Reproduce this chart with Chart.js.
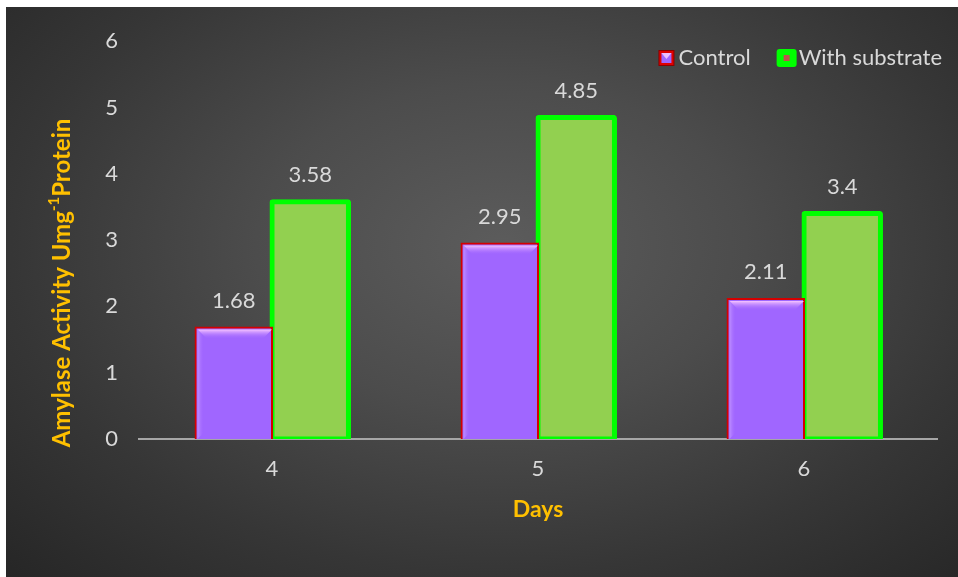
<!DOCTYPE html>
<html>
<head>
<meta charset="utf-8">
<script src="https://cdn.jsdelivr.net/npm/chart.js@4"></script>
<style>
  html, body { margin: 0; padding: 0; background: #ffffff; }
  #panel {
    position: absolute; left: 6px; top: 7px; width: 952px; height: 570px;
    background: radial-gradient(ellipse farthest-corner at 52% 42%, #5c5c5c 0%, #4c4c4c 35%, #363636 70%, #262626 100%);
  }
  canvas { display: block; }
</style>
</head>
<body>
<div id="panel"><canvas id="chart" width="952" height="570"></canvas></div>
<script>
// Amylase activity by day, with and without substrate
const categories = ['4', '5', '6'];
const controlValues = [1.68, 2.95, 2.11];
const substrateValues = [3.58, 4.85, 3.4];
const seriesNames = ['Control', 'With substrate'];
const yTitleParts = ['Amylase Activity Umg', '-1', 'Protein'];
const xTitle = 'Days';

const FONT = 'Lato, "Open Sans", sans-serif';
const TEXT = '#D9D9D9';
const ORANGE = '#FFC000';

// value labels above every bar
const valueLabels = {
  id: 'valueLabels',
  afterDatasetsDraw(chart) {
    const ctx = chart.ctx;
    ctx.save();
    ctx.font = '22px ' + FONT;
    ctx.fillStyle = TEXT;
    ctx.textAlign = 'center';
    ctx.textBaseline = 'middle';
    chart.data.datasets.forEach((ds, i) => {
      chart.getDatasetMeta(i).data.forEach((el, j) => {
        ctx.fillText(String(ds.data[j]), el.x, el.y - 27);
      });
    });
    ctx.restore();
  }
};

// light bevel along the top edge of the control bars
const bevel = {
  id: 'bevel',
  afterDatasetDraw(chart, args) {
    if (args.index !== 0) return;
    const ctx = chart.ctx;
    ctx.save();
    args.meta.data.forEach(el => {
      const p = el.getProps(['x', 'y', 'width', 'base'], true);
      const l = p.x - p.width / 2 + 2, r = p.x + p.width / 2, t = p.y + 2, b = p.base;
      const d = 9;
      let g = ctx.createLinearGradient(0, t, 0, t + d);
      g.addColorStop(0, 'rgba(250,200,255,0.95)');
      g.addColorStop(1, 'rgba(170,110,255,0)');
      ctx.fillStyle = g;
      ctx.beginPath();
      ctx.moveTo(l, t); ctx.lineTo(r, t); ctx.lineTo(r - d, t + d); ctx.lineTo(l + d, t + d);
      ctx.closePath(); ctx.fill();
      g = ctx.createLinearGradient(l, 0, l + 6, 0);
      g.addColorStop(0, 'rgba(210,170,255,0.6)');
      g.addColorStop(1, 'rgba(170,110,255,0)');
      ctx.fillStyle = g;
      ctx.beginPath();
      ctx.moveTo(l, t); ctx.lineTo(l + 6, t + 6); ctx.lineTo(l + 6, b - 6); ctx.lineTo(l, b);
      ctx.closePath(); ctx.fill();
    });
    ctx.restore();
  }
};

// rotated y-axis title with a superscript
const yTitle = {
  id: 'yTitle',
  afterDraw(chart) {
    const ctx = chart.ctx;
    const big = 'bold 24px ' + FONT, small = 'bold 15px ' + FONT;
    ctx.save();
    ctx.translate(56, 276);
    ctx.rotate(-Math.PI / 2);
    ctx.fillStyle = ORANGE;
    ctx.textBaseline = 'middle';
    ctx.textAlign = 'left';
    ctx.font = big; const w1 = ctx.measureText(yTitleParts[0]).width;
    const w3 = ctx.measureText(yTitleParts[2]).width;
    ctx.font = small; const w2 = ctx.measureText(yTitleParts[1]).width;
    let x = -(w1 + w2 + w3) / 2;
    ctx.font = big; ctx.fillText(yTitleParts[0], x, 0); x += w1;
    ctx.font = small; ctx.fillText(yTitleParts[1], x, -8); x += w2;
    ctx.font = big; ctx.fillText(yTitleParts[2], x, 0);
    ctx.restore();
  }
};

// legend in the upper right corner
const cornerLegend = {
  id: 'cornerLegend',
  afterDraw(chart) {
    const ctx = chart.ctx;
    ctx.save();
    ctx.font = '22px ' + FONT;
    ctx.textBaseline = 'middle';
    ctx.textAlign = 'left';
    const cy = 51, box = 16, gapText = 4, gapItem = 26;
    const w1 = ctx.measureText(seriesNames[0]).width;
    const w2 = ctx.measureText(seriesNames[1]).width;
    const t2 = 934 - w2, b2 = t2 - gapText - box;
    const t1 = b2 - gapItem - w1, b1 = t1 - gapText - box;
    // control marker
    ctx.fillStyle = '#8B0000';
    ctx.fillRect(b1, cy - box / 2, box, box);
    ctx.fillStyle = '#E00000';
    ctx.fillRect(b1 + 1, cy - box / 2 + 1, box - 2, box - 2);
    ctx.fillStyle = '#A066FF';
    ctx.fillRect(b1 + 3, cy - box / 2 + 3, box - 6, box - 6);
    ctx.fillStyle = 'rgba(245,200,255,0.9)';
    ctx.beginPath();
    ctx.moveTo(b1 + 3, cy - box / 2 + 3); ctx.lineTo(b1 + box - 3, cy - box / 2 + 3); ctx.lineTo(b1 + box / 2, cy + 1);
    ctx.closePath(); ctx.fill();
    // substrate marker
    ctx.fillStyle = '#00FF00';
    ctx.beginPath();
    ctx.roundRect(b2, cy - box / 2 - 1, box + 4, box + 2, 3);
    ctx.fill();
    ctx.fillStyle = '#C0504D';
    ctx.fillRect(b2 + box / 2 - 1, cy - 3, 6, 6);
    ctx.fillStyle = TEXT;
    ctx.fillText(seriesNames[0], t1, cy);
    ctx.fillText(seriesNames[1], t2 + 2, cy);
    ctx.restore();
  }
};

new Chart(document.getElementById('chart'), {
  type: 'bar',
  data: {
    labels: categories,
    datasets: [
      {
        label: seriesNames[0],
        data: controlValues,
        backgroundColor: '#A066FF',
        borderColor: '#D40000',
        borderWidth: 2,
        borderSkipped: 'bottom',
        inflateAmount: 1
      },
      {
        label: seriesNames[1],
        data: substrateValues,
        backgroundColor: '#92D050',
        borderColor: '#00FF00',
        borderWidth: 5,
        borderRadius: 3,
        borderSkipped: false,
        inflateAmount: 2.5
      }
    ]
  },
  options: {
    responsive: false,
    animation: false,
    devicePixelRatio: 1,
    categoryPercentage: 0.575,
    barPercentage: 1,
    layout: { padding: { top: 30, right: 21, left: 0, bottom: 0 } },
    plugins: { legend: { display: false }, tooltip: { enabled: false } },
    scales: {
      x: {
        grid: { display: false, drawTicks: false },
        border: { display: true, color: '#A6A6A6', width: 2 },
        ticks: { color: TEXT, font: { family: FONT, size: 22 }, padding: 17 },
        title: {
          display: true, text: xTitle, color: ORANGE,
          font: { family: FONT, size: 23, weight: 'bold' },
          padding: { top: 0, bottom: 54 }
        },
        afterFit(s) { s.height = 138; }
      },
      y: {
        min: 0, max: 6,
        grid: { display: false, drawTicks: false },
        border: { display: false },
        ticks: { stepSize: 1, color: TEXT, font: { family: FONT, size: 22 }, padding: 21 },
        afterFit(s) { s.width = 133; }
      }
    }
  },
  plugins: [bevel, valueLabels, yTitle, cornerLegend]
});
</script>
</body>
</html>
